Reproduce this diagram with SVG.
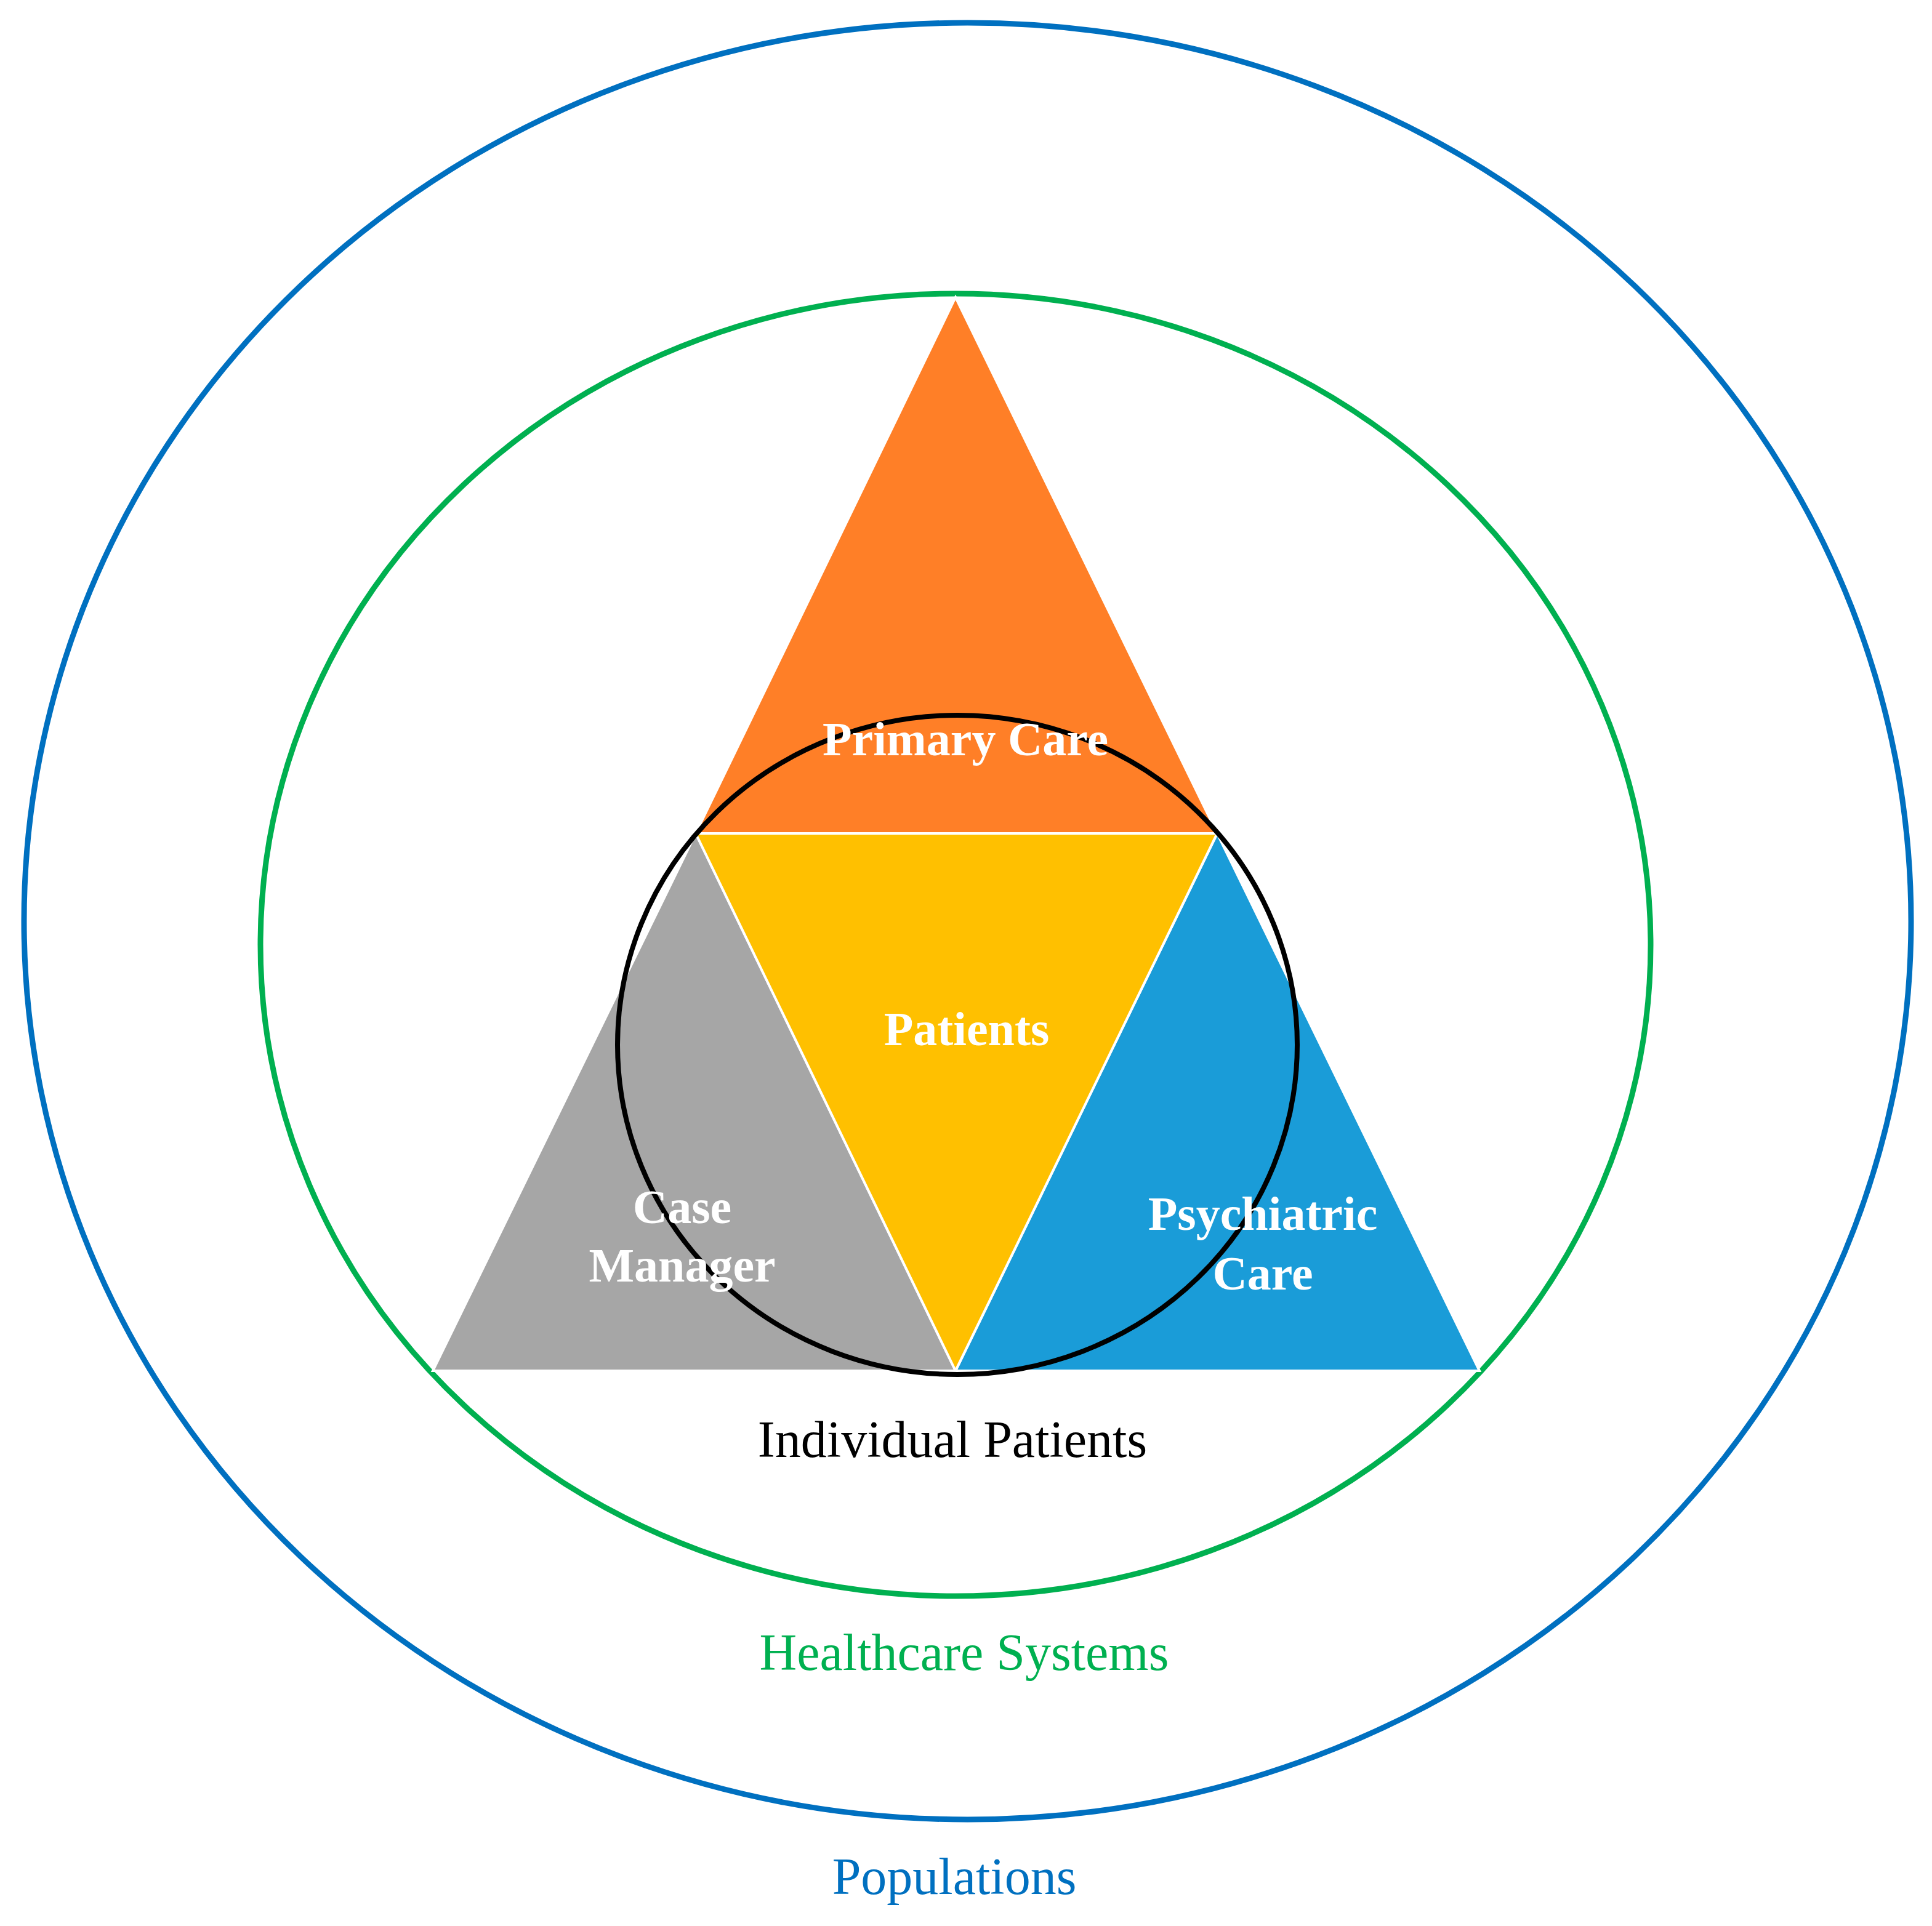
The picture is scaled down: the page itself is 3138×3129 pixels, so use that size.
<svg xmlns="http://www.w3.org/2000/svg" width="3138" height="3129" viewBox="0 0 3138 3129">
<style>
.ring{fill:none;stroke-width:9}
.tri{stroke:#FFFFFF;stroke-width:4;stroke-linejoin:miter}
.lbl{font-family:"Liberation Serif","Times New Roman",serif;font-weight:bold;font-size:78px;fill:#FFFFFF;text-anchor:middle}
.cap{font-family:"Liberation Serif","Times New Roman",serif;font-size:84px;text-anchor:middle}
</style>
<rect x="0" y="0" width="3138" height="3129" fill="#FFFFFF"/>
<g id="populations">
<ellipse class="ring" cx="1571.5" cy="1496.5" rx="1532.5" ry="1459.5" stroke="#0070C0"/>
<text class="cap" x="1550" y="3077" fill="#0070C0">Populations</text>
</g>
<g id="healthcare-systems">
<ellipse class="ring" cx="1552" cy="1535" rx="1129" ry="1058" stroke="#00B050"/>
<text class="cap" x="1566" y="2713" fill="#00B050">Healthcare Systems</text>
</g>
<g id="primary-care">
<polygon class="tri" points="1552,483 1977,1354 1130,1354" fill="#FF7F27"/>
</g>
<g id="case-manager">
<polygon class="tri" points="1130,1354 1552,2227 703,2227" fill="#A6A6A6"/>
</g>
<g id="psychiatric-care">
<polygon class="tri" points="1977,1354 2403,2227 1552,2227" fill="#1A9CD8"/>
</g>
<g id="patients">
<polygon class="tri" points="1130,1354 1977,1354 1552,2227" fill="#FFC000"/>
</g>
<g id="individual-patients">
<ellipse cx="1555" cy="1697.5" rx="552" ry="535.5" fill="none" stroke="#000000" stroke-width="8"/>
<text class="cap" x="1547" y="2367" fill="#000000">Individual Patients</text>
</g>
<g id="labels">
<text class="lbl" x="1568" y="1227">Primary Care</text>
<text class="lbl" x="1570" y="1698">Patients</text>
<text class="lbl" x="1108" y="1987">Case</text>
<text class="lbl" x="1108" y="2082">Manager</text>
<text class="lbl" x="2051" y="1998">Psychiatric</text>
<text class="lbl" x="2051" y="2095">Care</text>
</g>
<g id="connectors"></g>
</svg>
